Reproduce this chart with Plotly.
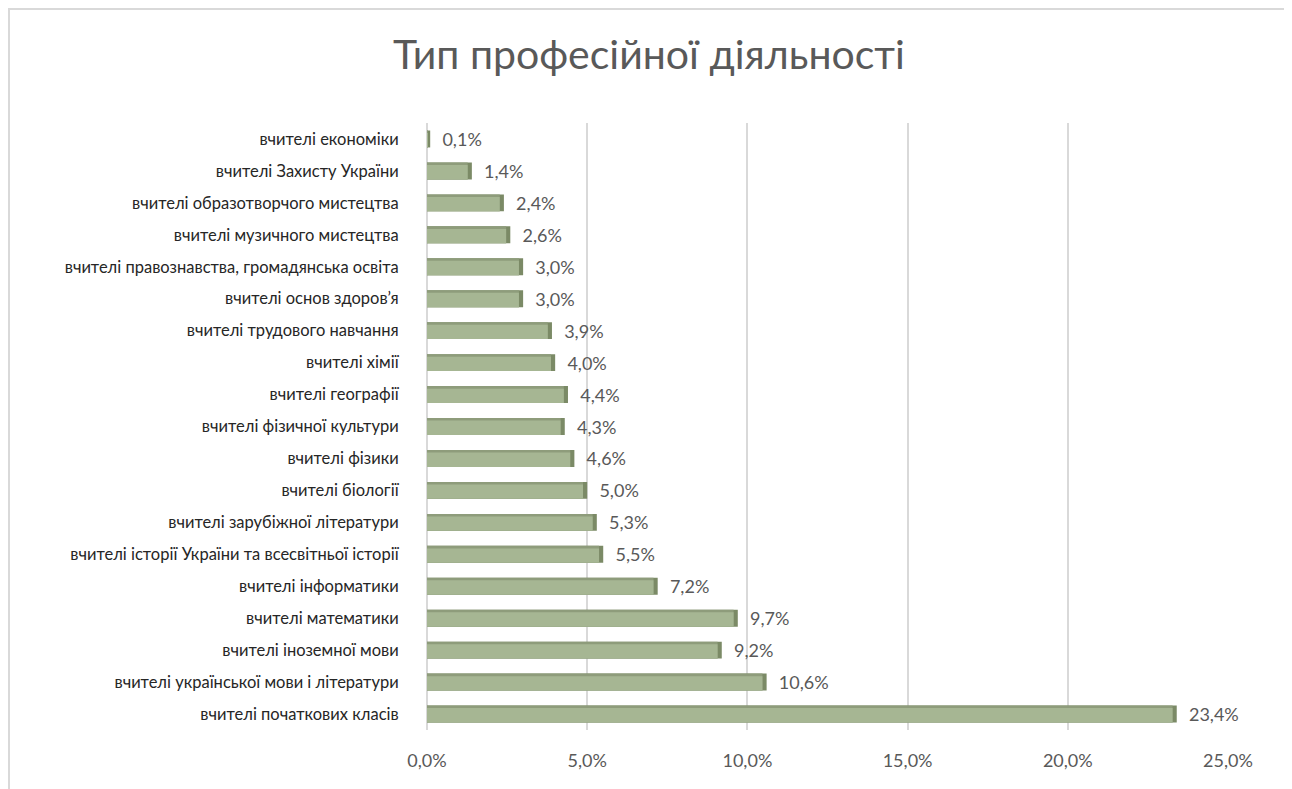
import plotly.graph_objects as go

categories = [
    "вчителі початкових класів",
    "вчителі української мови і літератури",
    "вчителі іноземної мови",
    "вчителі математики",
    "вчителі інформатики",
    "вчителі історії України та всесвітньої історії",
    "вчителі зарубіжної літератури",
    "вчителі біології",
    "вчителі фізики",
    "вчителі фізичної культури",
    "вчителі географії",
    "вчителі хімії",
    "вчителі трудового навчання",
    "вчителі основ здоров’я",
    "вчителі правознавства, громадянська освіта",
    "вчителі музичного мистецтва",
    "вчителі образотворчого мистецтва",
    "вчителі Захисту України",
    "вчителі економіки",
]
values = [23.4, 10.6, 9.2, 9.7, 7.2, 5.5, 5.3, 5.0, 4.6, 4.3, 4.4, 4.0, 3.9, 3.0, 3.0, 2.6, 2.4, 1.4, 0.1]
tick_vals = [0, 5, 10, 15, 20, 25]
tick_text = ["0,0%", "5,0%", "10,0%", "15,0%", "20,0%", "25,0%"]

labels = ["\u00a0\u00a0" + f"{v:.1f}%".replace(".", ",") for v in values]
depth = 0.13
face_vals = [max(v - depth, 0.03) for v in values]

FONT = "Lato, 'Open Sans', sans-serif"

# figure is placed 8px in from the page corner, so sizes are reduced by 8
W, H = 1284, 781
L, R, T, B = 419, 64, 115, 59
PW, PH = W - L - R, H - T - B

fig = go.Figure()
# darker 3D right side
fig.add_trace(go.Bar(
    y=categories, x=values, orientation="h",
    marker=dict(color="#7b8a66", line=dict(width=0)),
    width=0.53, offset=-0.265,
    text=labels, textposition="outside", cliponaxis=False, constraintext="none",
    textfont=dict(family=FONT, size=18, color="#595959"),
    hoverinfo="skip", showlegend=False,
))
# top strip
fig.add_trace(go.Bar(
    y=categories, x=face_vals, orientation="h",
    marker=dict(color="#8e9c7b", line=dict(width=0)),
    width=0.53, offset=-0.265,
    hoverinfo="skip", showlegend=False,
))
# front face
fig.add_trace(go.Bar(
    y=categories, x=face_vals, orientation="h",
    marker=dict(color="#a6b693", line=dict(width=0)),
    width=0.45, offset=-0.265,
    hoverinfo="skip", showlegend=False,
))

fig.update_layout(
    width=W, height=H,
    barmode="overlay",
    separators=", ",
    paper_bgcolor="white", plot_bgcolor="white",
    margin=dict(l=L, r=R, t=T, b=B, autoexpand=False),
    title=dict(text="Тип професійної діяльності", x=(649 - 8) / W, xanchor="center",
               y=1 - 47 / H, yanchor="middle",
               font=dict(family=FONT, size=41, color="#595959")),
    xaxis=dict(range=[0, 25], tickvals=tick_vals, ticktext=tick_text,
               showgrid=True, gridcolor="#d9d9d9", gridwidth=1.5,
               zeroline=True, zerolinecolor="#d9d9d9", zerolinewidth=1.5,
               showline=False, ticks="outside", ticklen=14, tickcolor="rgba(0,0,0,0)",
               tickfont=dict(family=FONT, size=18, color="#595959"), fixedrange=True),
    yaxis=dict(categoryorder="array", categoryarray=categories,
               range=[-0.5, 18.5], showgrid=False, zeroline=False, showline=False,
               ticks="outside", ticklen=24, tickcolor="rgba(0,0,0,0)",
               tickfont=dict(family=FONT, size=16.5, color="#262626")),
    shapes=[dict(type="rect", xref="paper", yref="paper",
                 x0=-(L - 1) / PW, x1=(W - 1.5 - L) / PW,
                 y0=-(B + 20) / PH, y1=(PH + T - 1) / PH,
                 line=dict(color="#d9d9d9", width=2), layer="below")],
)

fig.write_html("out.html")
